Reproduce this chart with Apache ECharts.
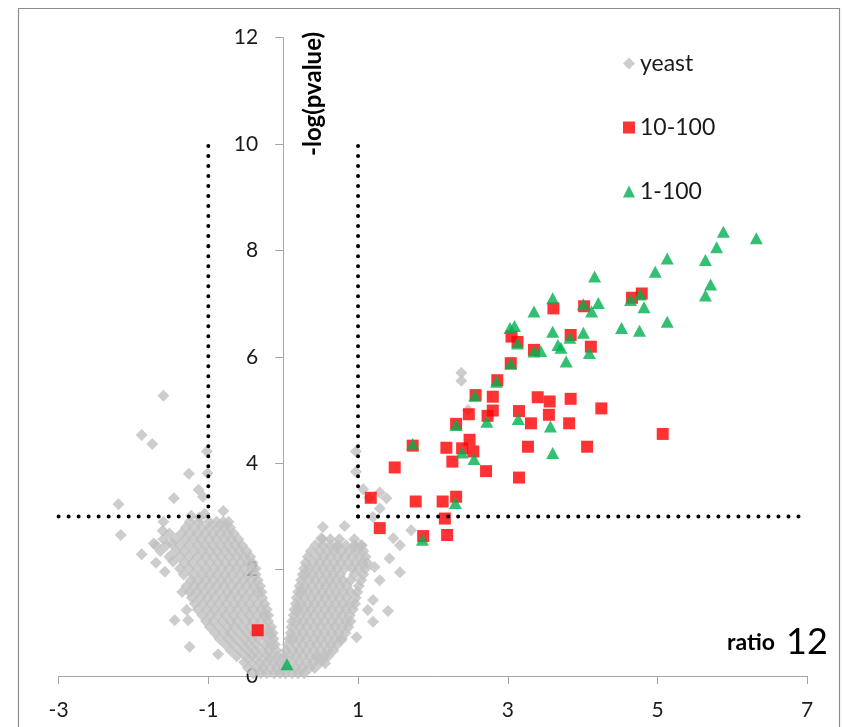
<!DOCTYPE html>
<html>
<head>
<meta charset="utf-8">
<script src="https://cdn.jsdelivr.net/npm/echarts@6/dist/echarts.min.js"></script>
<style>
  html, body { margin: 0; padding: 0; background: #fff; }
  #chart { width: 842px; height: 727px; }
</style>
</head>
<body>
<div id="chart"></div>
<script>
// Axis ranges (ratio on x, -log(pvalue) on y)
const xRange = { min: -3, max: 7, interval: 2 };
const yRange = { min: 0, max: 12, interval: 2 };

// Series names
const seriesNames = ['yeast', '10-100', '1-100'];

// yeast background proteins, dense part left of zero: each row is [y, x, x, ...]
const yeastLeftRows = [
  [0.05, -0.4, -0.3, -0.22, -0.12, -0.04],
  [0.15, -0.47, -0.35, -0.27, -0.17, -0.08],
  [0.26, -0.52, -0.42, -0.31, -0.23, -0.13, -0.05],
  [0.37, -0.62, -0.5, -0.41, -0.33, -0.22, -0.15, -0.07],
  [0.48, -0.7, -0.58, -0.47, -0.38, -0.28, -0.19, -0.09],
  [0.59, -0.77, -0.66, -0.55, -0.46, -0.36, -0.24, -0.16, -0.11],
  [0.70, -0.85, -0.73, -0.63, -0.51, -0.42, -0.33, -0.21, -0.13],
  [0.81, -0.91, -0.79, -0.7, -0.58, -0.48, -0.39, -0.27, -0.18, -0.14],
  [0.92, -0.98, -0.86, -0.74, -0.65, -0.55, -0.44, -0.35, -0.23, -0.16],
  [1.03, -1.03, -0.93, -0.81, -0.7, -0.61, -0.49, -0.4, -0.3, -0.2],
  [1.14, -1.08, -0.97, -0.87, -0.77, -0.66, -0.56, -0.45, -0.34, -0.25, -0.2],
  [1.25, -1.14, -1.02, -0.92, -0.81, -0.71, -0.61, -0.5, -0.4, -0.29, -0.22],
  [1.36, -1.18, -1.07, -0.97, -0.86, -0.76, -0.65, -0.56, -0.45, -0.34, -0.25],
  [1.47, -1.22, -1.11, -1.01, -0.91, -0.8, -0.71, -0.6, -0.5, -0.39, -0.28],
  [1.58, -1.25, -1.15, -1.05, -0.95, -0.85, -0.74, -0.65, -0.55, -0.44, -0.34, -0.29],
  [1.69, -1.29, -1.19, -1.1, -0.99, -0.89, -0.79, -0.69, -0.59, -0.49, -0.39, -0.31],
  [1.80, -1.23, -1.13, -1.03, -0.93, -0.83, -0.74, -0.63, -0.53, -0.43, -0.34],
  [1.91, -1.33, -1.2, -1.08, -0.98, -0.88, -0.78, -0.68, -0.57, -0.47, -0.37],
  [2.02, -1.38, -1.26, -1.14, -1.03, -0.92, -0.82, -0.72, -0.62, -0.52, -0.42, -0.37],
  [2.13, -1.32, -1.21, -1.09, -0.98, -0.87, -0.77, -0.67, -0.57, -0.47, -0.41],
  [2.24, -1.52, -1.38, -1.26, -1.14, -1.03, -0.93, -0.83, -0.72, -0.62, -0.52, -0.44],
  [2.35, -1.64, -1.44, -1.32, -1.19, -1.08, -0.98, -0.88, -0.78, -0.68, -0.58, -0.49],
  [2.46, -1.7, -1.56, -1.38, -1.26, -1.14, -1.04, -0.94, -0.84, -0.74, -0.64, -0.55],
  [2.57, -1.6, -1.44, -1.31, -1.2, -1.1, -0.99, -0.89, -0.79, -0.69, -0.6],
  [2.68, -1.52, -1.36, -1.25, -1.14, -1.04, -0.94, -0.84, -0.74, -0.66],
  [2.79, -1.3, -1.19, -1.08, -0.98, -0.88, -0.79, -0.71],
  [2.90, -1.25, -1.13, -0.99, -0.89, -0.8]
];

// yeast background proteins, dense part right of zero: each row is [y, x, x, ...]
const yeastRightRows = [
  [0.05, 0.03, 0.12, 0.2, 0.28],
  [0.15, 0.0, 0.08, 0.17, 0.26, 0.35, 0.42],
  [0.26, 0.03, 0.12, 0.21, 0.31, 0.4, 0.5],
  [0.37, 0.01, 0.08, 0.17, 0.26, 0.36, 0.45, 0.55, 0.6],
  [0.48, 0.04, 0.13, 0.22, 0.31, 0.41, 0.5, 0.6, 0.67],
  [0.59, 0.06, 0.17, 0.26, 0.36, 0.45, 0.55, 0.64, 0.72],
  [0.70, 0.08, 0.13, 0.22, 0.31, 0.41, 0.5, 0.6, 0.69, 0.78],
  [0.81, 0.1, 0.18, 0.27, 0.36, 0.46, 0.55, 0.65, 0.74, 0.83],
  [0.92, 0.11, 0.22, 0.31, 0.41, 0.5, 0.6, 0.69, 0.79, 0.87],
  [1.03, 0.12, 0.18, 0.27, 0.36, 0.46, 0.55, 0.65, 0.74, 0.84, 0.9],
  [1.14, 0.14, 0.23, 0.32, 0.41, 0.51, 0.6, 0.7, 0.79, 0.89],
  [1.25, 0.15, 0.2, 0.28, 0.37, 0.46, 0.56, 0.65, 0.75, 0.84, 0.93],
  [1.36, 0.17, 0.24, 0.33, 0.42, 0.51, 0.61, 0.7, 0.8, 0.89, 0.96],
  [1.47, 0.18, 0.28, 0.38, 0.47, 0.56, 0.66, 0.75, 0.85, 0.97],
  [1.58, 0.2, 0.25, 0.33, 0.43, 0.52, 0.61, 0.71, 0.8, 0.9, 0.99],
  [1.69, 0.22, 0.29, 0.38, 0.48, 0.57, 0.66, 0.76, 0.85, 1.01],
  [1.80, 0.24, 0.34, 0.43, 0.53, 0.62, 0.71, 0.8, 0.9, 1.04],
  [1.91, 0.26, 0.3, 0.39, 0.48, 0.58, 0.67, 0.76, 0.95, 1.07],
  [2.02, 0.28, 0.35, 0.44, 0.53, 0.63, 0.72, 0.82, 0.92, 1.01, 1.1],
  [2.13, 0.3, 0.4, 0.49, 0.58, 0.68, 0.77, 0.87, 0.97, 1.06, 1.12],
  [2.24, 0.33, 0.45, 0.54, 0.63, 0.73, 0.82, 0.92, 1.02, 1.1],
  [2.35, 0.37, 0.49, 0.59, 0.68, 0.78, 0.88, 0.98, 1.07],
  [2.46, 0.43, 0.53, 0.63, 0.73, 0.84, 0.95, 1.04],
  [2.57, 0.52, 0.63, 0.75, 0.95]
];

// yeast background proteins, scattered ones: [x, y]
const yeastScattered = [
  [-1.60, 5.27], [-1.89, 4.53], [-1.75, 4.36], [-1.02, 4.22], [-1.01, 3.81], [-1.26, 3.80],
  [-1.46, 3.34], [-1.13, 3.50], [-1.07, 3.37], [-2.20, 3.23], [-2.17, 2.65], [-1.89, 2.29],
  [-0.80, 3.10], [-0.73, 2.90], [-1.23, 3.01], [-1.60, 2.90], [-1.61, 2.73], [-1.45, 1.05],
  [-1.25, 0.55], [-0.87, 0.41], [-1.70, 2.13], [-1.58, 1.96], [-1.47, 2.15], [-1.73, 2.49],
  [-1.49, 2.49], [-1.35, 1.58], [-1.29, 1.24], [-1.27, 1.05], [-1.05, 3.05], [-1.12, 2.98],
  [0.97, 4.22], [0.97, 3.84], [1.07, 3.51], [1.29, 3.45], [1.38, 3.34], [1.29, 3.15],
  [1.20, 2.99], [0.82, 2.82], [0.53, 2.80], [0.51, 2.59], [1.47, 2.59], [1.56, 2.46],
  [1.71, 2.74], [1.42, 2.21], [1.56, 1.95], [1.22, 2.05], [1.05, 2.46], [0.96, 2.43],
  [0.71, 2.43], [1.29, 1.80], [1.20, 1.43], [1.13, 1.24], [1.40, 1.22], [1.20, 1.02],
  [0.98, 0.73], [0.78, 0.68], [0.56, 0.24], [0.47, 0.33], [2.38, 5.70], [2.38, 5.55],
  [2.47, 5.00], [1.15, 3.35]
];

// 10-100 proteins: [ratio, -log(pvalue)]
const set10to100 = [
  [-0.34, 0.86],
  [1.17, 3.35], [1.49, 3.92], [1.73, 4.33], [1.29, 2.78], [1.77, 3.28], [1.87, 2.63],
  [2.13, 3.28], [2.16, 2.96], [2.19, 2.65], [2.31, 3.37], [2.18, 4.29], [2.26, 4.03],
  [2.39, 4.28], [2.49, 4.44], [2.54, 4.22], [2.71, 3.85], [2.31, 4.74], [2.48, 4.92],
  [2.57, 5.28], [2.80, 5.25], [2.73, 4.89], [2.80, 4.99], [2.86, 5.56], [3.15, 4.98],
  [3.31, 4.75], [3.27, 4.31], [3.15, 3.73], [3.40, 5.24], [3.56, 5.16], [3.55, 4.91],
  [3.04, 5.88], [3.05, 6.38], [3.13, 6.28], [3.35, 6.13], [3.61, 6.91],
  [3.84, 6.41], [4.11, 6.19], [4.02, 6.95], [4.66, 7.11], [4.79, 7.19],
  [3.84, 5.21], [4.25, 5.03], [3.82, 4.75], [4.06, 4.31], [5.07, 4.55]
];

// 1-100 proteins: [ratio, -log(pvalue)]
const set1to100 = [
  [0.05, 0.22],
  [1.73, 4.36], [1.86, 2.56], [2.30, 3.25], [2.31, 4.72], [2.39, 4.20], [2.55, 4.08],
  [2.56, 5.27], [2.72, 4.78], [2.85, 5.53], [3.04, 5.87], [3.03, 6.54], [3.09, 6.58],
  [3.13, 6.25], [3.14, 4.83], [3.35, 6.85], [3.35, 6.10], [3.44, 6.11], [3.60, 7.10],
  [3.60, 6.47], [3.57, 4.69], [3.60, 4.19], [3.67, 6.22], [3.71, 6.17], [3.83, 6.36],
  [4.01, 6.45], [3.78, 5.91], [4.09, 6.07], [4.16, 7.51], [4.01, 6.99], [4.21, 7.01],
  [4.12, 6.85], [4.52, 6.54], [4.76, 6.49], [4.64, 7.07], [4.77, 7.17], [4.82, 6.93],
  [5.13, 6.66], [4.97, 7.60], [5.13, 7.85], [5.64, 7.82], [5.79, 8.06], [5.88, 8.35],
  [6.32, 8.23], [5.71, 7.36], [5.64, 7.15]
];

// Significance cut-offs: |ratio| = 1 up to -log(p) = 10, and -log(p) = 3
const cutoffLines = [
  [[-1, 3], [-1, 10]],
  [[1, 3], [1, 10]],
  [[-3, 3], [-1, 3]],
  [[1, 3], [7, 3]]
];

const FONT = 'Lato, "Open Sans", "Liberation Sans", sans-serif';

const toPoints = rows => rows.flatMap(r => r.slice(1).map(x => [x, r[0]]));
const yeastData = toPoints(yeastLeftRows)
  .concat(toPoints(yeastRightRows))
  .concat(yeastScattered);

const dotted = {
  color: '#000',
  width: 4,
  type: [0.01, 10],
  cap: 'round'
};

// plot box
const GRID = { left: 58.6, right: 34.8, top: 37.6, bottom: 51 };
const plotWidth = 842 - GRID.left - GRID.right;
// the y axis stands at ratio = 0
const yAxisShift = plotWidth * (0 - xRange.min) / (xRange.max - xRange.min);

const chart = echarts.init(document.getElementById('chart'), null, { renderer: 'canvas' });

chart.setOption({
  animation: false,
  backgroundColor: '#fff',
  grid: GRID,
  xAxis: {
    type: 'value',
    min: xRange.min, max: xRange.max, interval: xRange.interval,
    splitLine: { show: false },
    axisLine: { lineStyle: { color: '#a6a6a6', width: 1 } },
    axisTick: { inside: false, length: 8, lineStyle: { color: '#a6a6a6' } },
    axisLabel: { margin: 24, fontFamily: FONT, fontSize: 21, color: '#1a1a1a' }
  },
  yAxis: {
    type: 'value',
    position: 'left',
    offset: -yAxisShift,
    min: yRange.min, max: yRange.max, interval: yRange.interval,
    splitLine: { show: false },
    axisLine: { onZero: false, lineStyle: { color: '#a6a6a6', width: 1 } },
    axisTick: { inside: false, length: 8, lineStyle: { color: '#a6a6a6' } },
    axisLabel: { margin: 25, fontFamily: FONT, fontSize: 21, color: '#1a1a1a' }
  },
  legend: {
    data: seriesNames,
    orient: 'vertical',
    left: 618,
    top: 47,
    itemWidth: 12,
    itemHeight: 12,
    itemGap: 41,
    textStyle: { fontFamily: FONT, fontSize: 23, color: '#1a1a1a' }
  },
  graphic: [
    {
      type: 'rect', z: -1, silent: true,
      shape: { x: 18.5, y: 8.5, width: 821, height: 740 },
      style: { fill: 'none', stroke: '#8c8c8c', lineWidth: 1.2 }
    },
    {
      type: 'text', x: 313, y: 94, rotation: Math.PI / 2, silent: true,
      style: { text: '-log(pvalue)', font: 'bold 24px ' + FONT, fill: '#000', align: 'center', verticalAlign: 'middle' }
    },
    {
      type: 'text', x: 727, y: 643, silent: true,
      style: { text: 'ratio', font: 'bold 23px ' + FONT, fill: '#000', align: 'left', verticalAlign: 'middle' }
    },
    {
      type: 'text', x: 786, y: 642, silent: true,
      style: { text: '12', font: '36px ' + FONT, fill: '#000', align: 'left', verticalAlign: 'middle' }
    }
  ],
  series: [
    {
      name: seriesNames[0], type: 'scatter', symbol: 'diamond', symbolSize: 12,
      itemStyle: { color: '#c0c0c0' }, data: yeastData
    },
    {
      name: seriesNames[1], type: 'scatter', symbol: 'rect', symbolSize: 12,
      itemStyle: { color: '#ff0000' }, data: set10to100
    },
    {
      name: seriesNames[2], type: 'scatter', symbol: 'triangle', symbolSize: [13, 12],
      itemStyle: { color: '#00b050' }, data: set1to100
    }
  ].concat(cutoffLines.map(seg => ({
    type: 'line', data: seg, symbol: 'none', silent: true,
    lineStyle: dotted, z: 5
  })))
});
</script>
</body>
</html>
